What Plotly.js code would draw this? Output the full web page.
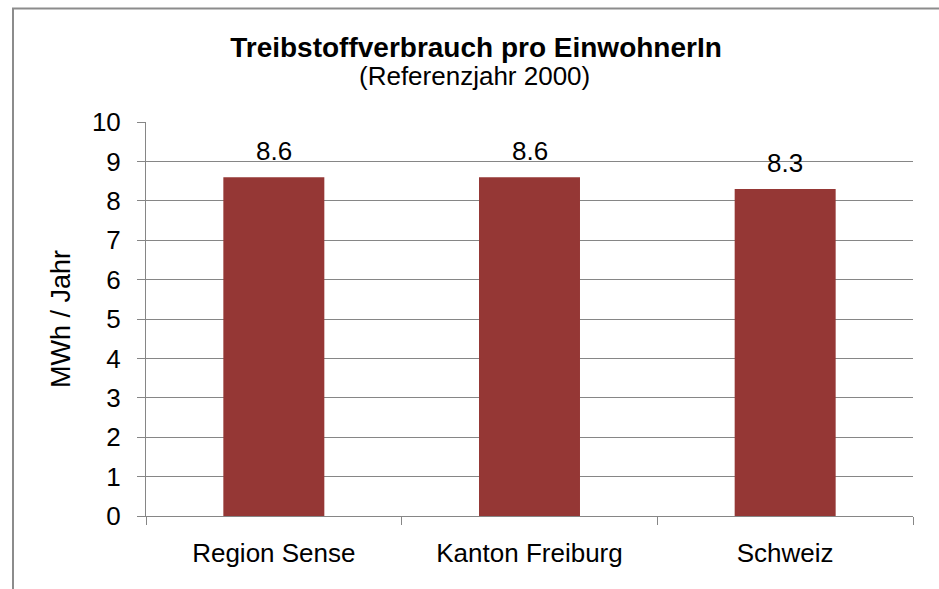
<!DOCTYPE html>
<html>
<head>
<meta charset="utf-8">
<script src="https://cdn.plot.ly/plotly-3.0.1.min.js"></script>
<style>html,body{margin:0;padding:0;background:#fff;}#chart{width:939px;height:589px;}</style>
</head>
<body>
<div id="chart"></div>
<script>
const categories = ["Region Sense", "Kanton Freiburg", "Schweiz"];
const values = [8.6, 8.6, 8.3];
const valueLabels = ["8.6", "8.6", "8.3"];
const yTicks = [0, 1, 2, 3, 4, 5, 6, 7, 8, 9, 10];

const FONT = "Liberation Sans, Arial, sans-serif";
const W = 939, H = 589;
const L = 146, R = 26, T = 122, B = 73;
const pw = W - L - R, ph = H - T - B;
function px2x(px) { return (px - L) / pw; }
function px2y(py) { return (H - B - py) / ph; }

const trace = {
  type: "bar",
  x: categories,
  y: values,
  marker: { color: "#953735", line: { width: 0 } },
  hoverinfo: "skip"
};

const annotations = categories.map((c, i) => ({
  x: c, y: values[i], xref: "x", yref: "y",
  text: valueLabels[i], showarrow: false,
  yanchor: "bottom", yshift: 9,
  font: { family: FONT, size: 26, color: "#000" }
}));

annotations.push({
  xref: "paper", yref: "paper",
  x: px2x(474), y: px2y(76), xanchor: "center", yanchor: "middle",
  text: "(Referenzjahr 2000)", showarrow: false,
  font: { family: FONT, size: 26, color: "#000" }
});

const layout = {
  width: W, height: H,
  margin: { l: L, r: R, t: T, b: B },
  paper_bgcolor: "#fff", plot_bgcolor: "#fff",
  showlegend: false,
  bargap: 0.605,
  title: {
    text: "<b>Treibstoffverbrauch pro EinwohnerIn</b>",
    font: { family: FONT, size: 28, color: "#000" },
    x: 476 / W, xanchor: "center", xref: "container",
    y: 1 - 47 / H, yanchor: "middle", yref: "container"
  },
  xaxis: {
    type: "category",
    tickson: "boundaries",
    ticks: "outside", ticklen: 8, tickwidth: 1, tickcolor: "#868686",
    showline: true, linecolor: "#868686", linewidth: 1,
    showgrid: false, zeroline: false,
    tickfont: { family: FONT, size: 26, color: "#000" },
    ticklabelstandoff: 14,
    fixedrange: true
  },
  yaxis: {
    range: [0, 10],
    tickvals: yTicks,
    ticktext: yTicks.map(String),
    ticks: "outside", ticklen: 8, tickwidth: 1, tickcolor: "#868686",
    showline: true, linecolor: "#868686", linewidth: 1,
    showgrid: true, gridcolor: "#868686", gridwidth: 1,
    zeroline: false,
    tickfont: { family: FONT, size: 26, color: "#000" },
    ticklabelstandoff: 11,
    title: { text: "MWh / Jahr", font: { family: FONT, size: 27, color: "#000" }, standoff: 13 },
    fixedrange: true
  },
  annotations: annotations,
  shapes: [{
    type: "rect", xref: "paper", yref: "paper",
    x0: px2x(13), x1: px2x(1000), y0: px2y(700), y1: px2y(8.5),
    line: { color: "#8c8c8c", width: 2 }, fillcolor: "rgba(0,0,0,0)", layer: "below"
  }]
};

Plotly.newPlot("chart", [trace], layout, { displayModeBar: false, staticPlot: true });
</script>
</body>
</html>
